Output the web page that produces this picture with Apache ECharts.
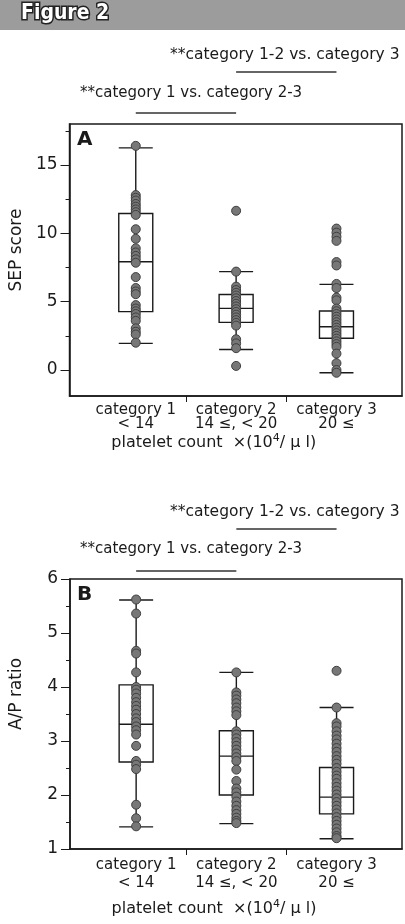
<!DOCTYPE html>
<html><head><meta charset="utf-8">
<script src="https://cdn.jsdelivr.net/npm/echarts@6/dist/echarts.min.js"></script>
<style>html,body{margin:0;padding:0;background:#fff}#c{width:405px;height:924px}</style>
</head><body><div id="c"></div>
<script>
// ---------- data ----------
const categories = ['category 1', 'category 2', 'category 3'];
const ranges = ['< 14', '14 \u2264, < 20', '20 \u2264'];
const catPos = [1, 2, 3];
const separators = [1.5, 2.5];
const figureTitle = 'Figure 2';
const noteTop = '**category 1-2 vs. category 3';
const noteBottom = '**category 1 vs. category 2-3';
const noteTopSpan = [2, 3];
const noteBottomSpan = [1, 2];
const xName = 'platelet count  \u00d7(10{sup|4}/ \u03bc l)';

// Panel A: SEP score
const sepTicks = [0, 5, 10, 15];
const sepMinorTicks = [2.5, 7.5, 12.5, 17.5];
const sepBox = [            // [min, Q1, median, Q3, max]
  [1.95, 4.27, 7.92, 11.45, 16.25],
  [1.5, 3.49, 4.51, 5.53, 7.2],
  [-0.2, 2.32, 3.17, 4.32, 6.27]
];
const sepCat1 = [16.4, 12.8, 12.6, 12.4, 12.15, 11.95, 11.75, 11.55, 11.35, 10.3, 9.6, 8.9, 8.6, 8.35, 8.1, 7.85, 6.8, 6.0, 5.75, 5.55, 4.75, 4.5, 4.3, 4.1, 3.85, 3.6, 3.05, 2.8, 2.6, 2.0];
const sepCat2 = [11.65, 7.2, 6.1, 5.85, 5.65, 5.45, 5.25, 5.05, 4.85, 4.65, 4.45, 4.25, 4.05, 3.85, 3.65, 3.45, 3.25, 2.25, 1.95, 1.6, 0.3];
const sepCat3 = [10.35, 10.05, 9.75, 9.45, 7.9, 7.65, 6.3, 6.0, 5.3, 5.1, 4.5, 4.3, 4.1, 3.9, 3.7, 3.5, 3.3, 3.1, 2.9, 2.7, 2.5, 2.3, 2.1, 1.9, 1.7, 1.2, 0.5, 0.0, -0.2];

// Panel B: A/P ratio
const apTicks = [1, 2, 3, 4, 5, 6];
const apMinorTicks = [1.5, 2.5, 3.5, 4.5, 5.5];
const apBox = [
  [1.41, 2.61, 3.31, 4.04, 5.61],
  [1.47, 2.0, 2.72, 3.19, 4.27],
  [1.19, 1.65, 1.96, 2.51, 3.62]
];
const apCat1 = [5.62, 5.36, 4.67, 4.62, 4.27, 4.0, 3.95, 3.88, 3.8, 3.72, 3.65, 3.58, 3.5, 3.42, 3.35, 3.27, 3.2, 3.12, 2.91, 2.63, 2.56, 2.48, 1.82, 1.57, 1.42];
const apCat2 = [4.27, 3.9, 3.84, 3.77, 3.7, 3.62, 3.55, 3.48, 3.18, 3.12, 3.05, 2.98, 2.91, 2.84, 2.77, 2.7, 2.63, 2.47, 2.26, 2.12, 2.05, 1.97, 1.88, 1.8, 1.72, 1.65, 1.58, 1.52, 1.48];
const apCat3 = [4.3, 3.62, 3.33, 3.27, 3.18, 3.1, 3.03, 2.95, 2.87, 2.8, 2.72, 2.65, 2.58, 2.5, 2.43, 2.36, 2.3, 2.22, 2.15, 2.08, 2.01, 1.94, 1.87, 1.8, 1.73, 1.66, 1.59, 1.52, 1.45, 1.38, 1.31, 1.24, 1.2];

// ---------- chart ----------
const F = "'DejaVu Sans', 'Liberation Sans', sans-serif";
const INK = '#1a1a1a';
const chart = echarts.init(document.getElementById('c'), null, { renderer: 'canvas' });

const panels = [
  { name: 'SEP score', box: sepBox, pts: [sepCat1, sepCat2, sepCat3], ticks: sepTicks, minor: sepMinorTicks, min: -1.9, max: 18,
    grid: { left: 69, top: 124, width: 333, height: 272 }, labelLH: 14, nameGap: 33, yNamePad: 20, yNameGap: 43, letter: 'A',
    notes: [55, 94], lines: [72, 113] },
  { name: 'A/P ratio', box: apBox, pts: [apCat1, apCat2, apCat3], ticks: apTicks, minor: apMinorTicks, min: 1, max: 6,
    grid: { left: 69, top: 579, width: 333, height: 270 }, labelLH: 18, nameGap: 50, yNamePad: 40, yNameGap: 45, letter: 'B',
    notes: [512, 550], lines: [529, 571] }
];

const grids = [], xAxes = [], yAxes = [], series = [], titles = [];
titles.push({ text: figureTitle, left: 21, top: 3, padding: 0,
  textStyle: { color: '#fff', fontSize: 21, fontWeight: 'bold', fontFamily: "'DejaVu Sans Condensed', 'Liberation Sans Narrow', 'DejaVu Sans', sans-serif",
    textBorderColor: '#222', textBorderWidth: 3 } });

panels.forEach((p, i) => {
  grids.push(Object.assign({ show: true, borderColor: INK, borderWidth: 1.5, backgroundColor: 'transparent' }, p.grid));
  xAxes.push({
    type: 'value', gridIndex: i, min: 0.34, max: 3.653,
    axisLine: { show: true, onZero: false, lineStyle: { color: INK, width: 1.5 } },
    axisTick: { show: true, customValues: separators, length: 6, lineStyle: { color: INK, width: 1 } },
    axisLabel: { customValues: catPos, margin: 7, fontSize: 15, color: INK, lineHeight: p.labelLH, fontFamily: F,
      formatter: v => { const k = Math.round(v) - 1; return categories[k] + '\n' + ranges[k]; } },
    splitLine: { show: false },
    name: xName, nameLocation: 'middle', nameGap: p.nameGap,
    nameTextStyle: { fontSize: 16, color: INK, fontFamily: F, padding: [0, 44, 0, 0],
      rich: { sup: { fontSize: 11, padding: [0, 0, 9, 0], color: INK, fontFamily: F } } }
  });
  yAxes.push({
    type: 'value', gridIndex: i, min: p.min, max: p.max, position: 'left',
    axisLine: { show: true, onZero: false, lineStyle: { color: INK, width: 1.5 } },
    axisTick: { show: true, customValues: p.ticks, length: 9, lineStyle: { color: INK, width: 1 } },
    axisLabel: { customValues: p.ticks, margin: 12, fontSize: 17, color: INK, fontFamily: F },
    splitLine: { show: false },
    name: p.name, nameLocation: 'middle', nameGap: p.yNameGap,
    nameTextStyle: { fontSize: 17, color: INK, fontFamily: F, padding: [0, 0, 0, p.yNamePad] }
  });
  yAxes.push({
    type: 'value', gridIndex: i, min: p.min, max: p.max, position: 'left',
    axisLine: { show: false },
    axisTick: { show: true, customValues: p.minor, length: 4, lineStyle: { color: INK, width: 1 } },
    axisLabel: { show: false }, splitLine: { show: false }
  });
  series.push({
    type: 'boxplot', xAxisIndex: i, yAxisIndex: i * 2, boxWidth: [34, 34],
    data: p.box.map((b, k) => [catPos[k]].concat(b)),
    itemStyle: { color: 'rgba(255,255,255,0)', borderColor: INK, borderWidth: 1.4 },
    silent: true
  });
  series.push({
    type: 'scatter', xAxisIndex: i, yAxisIndex: i * 2, symbolSize: 9,
    data: [].concat(...p.pts.map((arr, k) => arr.map(v => [catPos[k], v]))),
    itemStyle: { color: '#777777', borderColor: '#3f3f3f', borderWidth: 1, opacity: 1 },
    silent: true
  });
  titles.push({ text: noteTop, left: 170, top: p.notes[0] - 8, padding: 0,
    textStyle: { fontSize: 15.5, fontWeight: 'normal', color: INK, fontFamily: F } });
  titles.push({ text: noteBottom, left: 80, top: p.notes[1] - 8, padding: 0,
    textStyle: { fontSize: 15, fontWeight: 'normal', color: INK, fontFamily: F } });
  titles.push({ text: p.letter, left: p.grid.left + 8, top: p.grid.top + 6, padding: 0,
    textStyle: { fontSize: 20, fontWeight: 'bold', color: INK, fontFamily: F } });
});

const banner = { type: 'rect', z: -10, shape: { x: 0, y: 0, width: 405, height: 30 }, style: { fill: '#9c9c9c' } };
chart.setOption({
  animation: false,
  backgroundColor: '#fff',
  textStyle: { fontFamily: F, color: INK },
  title: titles,
  grid: grids, xAxis: xAxes, yAxis: yAxes, series: series,
  graphic: [banner]
});

// underlines under the significance notes, positioned on the panel's x scale
const g = [banner];
panels.forEach((p, i) => {
  [[noteTopSpan, p.lines[0]], [noteBottomSpan, p.lines[1]]].forEach(([span, y]) => {
    const x1 = chart.convertToPixel({ xAxisIndex: i }, span[0]);
    const x2 = chart.convertToPixel({ xAxisIndex: i }, span[1]);
    g.push({ type: 'line', shape: { x1: x1, y1: y, x2: x2, y2: y }, style: { stroke: '#333', lineWidth: 1.3 } });
  });
});
chart.setOption({ graphic: g });
</script>
</body></html>
